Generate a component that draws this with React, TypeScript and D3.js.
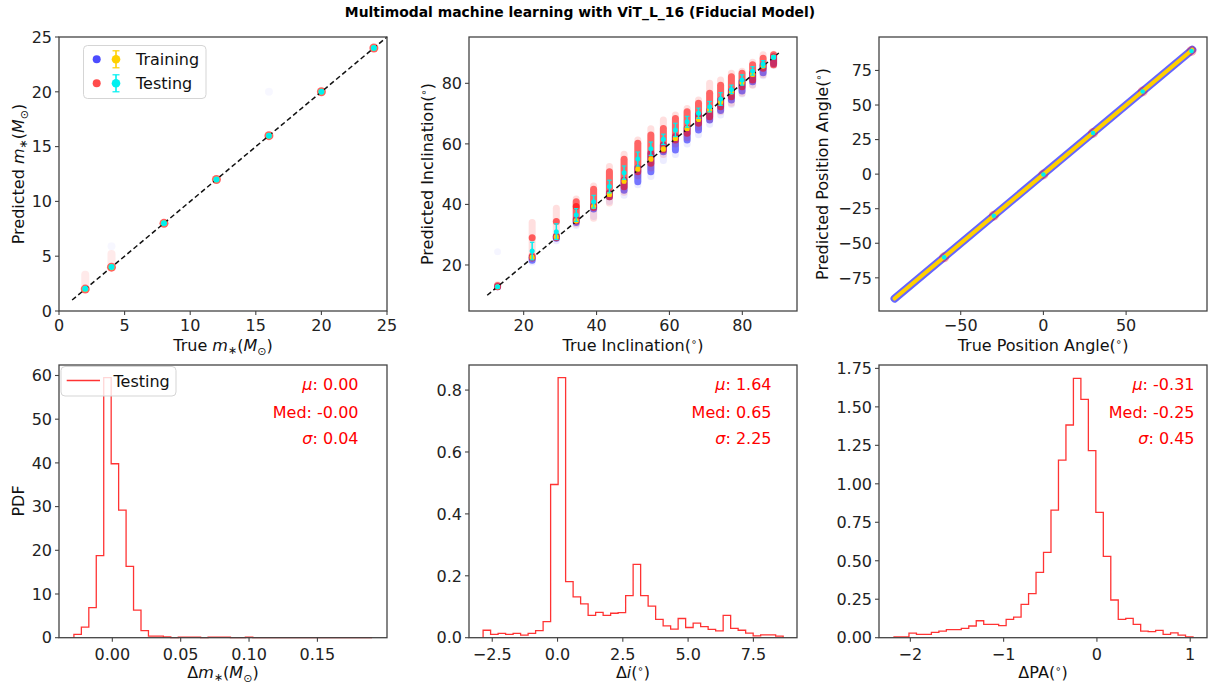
import React from "react";
import * as d3 from "d3";

const TITLE = "Multimodal machine learning with ViT_L_16 (Fiducial Model)";

// ---------- Panel 1: stellar mass ----------
const massTrue = [2, 4, 8, 12, 16, 20, 24];
const massTestMean = [2.02, 4.01, 8.0, 12.0, 16.0, 20.0, 24.0];
const massTestFaintHi = [3.3, 5.2, 8.0, 12.0, 16.0, 20.0, 24.0];
const massTrainOutX = [4, 16];
const massTrainOutY = [5.9, 20.0];
const massLine = [1, 25];

// ---------- Panel 2: inclination ----------
const incTrue = [12.84, 22.33, 28.96, 34.42, 39.19, 43.53, 47.55, 51.32, 54.9, 58.33, 61.64, 64.85, 67.98, 71.03, 74.04, 77.0, 79.92, 82.82, 85.7, 88.57];
const incTrainMean = [12.8, 22.5, 29.3, 34.6, 39.3, 43.3, 47.7, 51.7, 55.0, 58.3, 61.8, 65.1, 68.1, 71.2, 73.8, 77.2, 80.2, 83.0, 85.7, 88.7];
const incTrainStd = [0.3, 0.5, 0.5, 0.5, 0.5, 0.6, 0.6, 0.6, 0.6, 0.6, 0.6, 0.6, 0.6, 0.6, 0.6, 0.6, 0.6, 0.6, 0.5, 0.4];
const incTestMean = [12.8, 24.6, 31.0, 36.5, 40.9, 45.9, 50.5, 55.0, 58.4, 61.5, 64.6, 67.3, 70.1, 72.3, 74.8, 78.0, 81.1, 84.1, 86.4, 88.6];
const incTestStd = [0.3, 2.9, 2.6, 2.1, 2.1, 2.1, 2.2, 2.3, 2.2, 1.7, 2.2, 1.8, 1.7, 1.7, 2.1, 1.4, 1.7, 1.4, 1.1, 0.5];
const incTestLo = [12.8, 22.3, 29.0, 34.5, 39.0, 42.5, 45.8, 50.8, 53.6, 58.0, 61.3, 63.5, 66.8, 69.0, 72.3, 75.6, 78.9, 81.1, 85.0, 86.1];
const incTestHi = [13.2, 23.0, 29.5, 40.9, 45.0, 50.8, 54.9, 60.2, 62.9, 65.1, 68.4, 70.6, 73.4, 76.7, 79.4, 82.2, 83.3, 86.1, 88.3, 89.4];
const incTestPeak = [[], [29.0], [34.4], [39.3], [], [], [], [], [], [], [], [], [], [], [], [], [], [], [], []];
const incTestFaintLo = [12.8, 22.3, 29.0, 33.5, 35.4, 40.5, 44.0, 49.5, 52.0, 56.5, 60.0, 62.0, 65.5, 68.0, 70.6, 73.4, 76.7, 79.4, 82.8, 86.0];
const incTestFaintHi = [13.5, 34.0, 38.7, 41.8, 46.1, 52.5, 56.6, 61.3, 65.0, 67.9, 69.5, 71.7, 74.5, 80.0, 81.1, 83.3, 84.0, 87.0, 89.4, 89.6];
const incTrainLo = [12.8, 21.6, 28.8, 34.0, 38.5, 42.5, 44.7, 47.5, 50.8, 57.4, 58.0, 61.3, 64.6, 67.9, 71.0, 74.5, 77.5, 80.5, 83.5, 86.5];
const incTrainHi = [12.9, 22.5, 29.5, 35.0, 39.5, 43.8, 48.0, 52.0, 56.9, 59.6, 62.4, 65.1, 69.5, 71.0, 74.5, 77.5, 80.5, 83.3, 86.0, 88.8];
const incTrainFaintLo = [12.8, 21.0, 28.0, 33.0, 36.0, 41.0, 43.0, 46.5, 49.2, 54.5, 56.5, 60.0, 63.0, 66.5, 69.5, 73.0, 76.5, 79.5, 82.5, 86.0];
const incTrainOut = [[12.84, 24.4]];
const incLine = [10, 90];

// ---------- Panel 3: position angle ----------
const paTrainRange = [-90, 90];
const paTestTrue = [-60, -30, 0, 30, 60, 89.5];
const paTestMean = [-60.2, -30.1, -0.3, 29.8, 59.8, 89.1];

// ---------- Histograms ----------
const massBins = [-0.0281, 0.19];
const massPdf = [0.76, 2.4, 6.9, 18.8, 59.5, 39.8, 29.2, 16.3, 6.3, 1.6, 0.38, 0.36, 0.2, 0, 0.1, 0.1, 0.1, 0, 0.1, 0.1, 0.1, 0, 0, 0.1, 0, 0, 0, 0, 0, 0, 0, 0, 0, 0, 0, 0, 0, 0, 0, 0];
const massStats = ["0.00", "-0.00", "0.04"];

const incBins = [-2.85, 8.64];
const incPdf = [0.024, 0.011, 0.014, 0.011, 0.014, 0.008, 0.014, 0.023, 0.052, 0.495, 0.84, 0.181, 0.132, 0.109, 0.072, 0.082, 0.072, 0.079, 0.081, 0.136, 0.237, 0.136, 0.102, 0.059, 0.038, 0.028, 0.062, 0.033, 0.047, 0.036, 0.027, 0.022, 0.072, 0.03, 0.024, 0.015, 0.006, 0.009, 0.009, 0.005];
const incStats = ["1.64", "0.65", "2.25"];

const paBins = [-2.175, 1.03];
const paPdf = [0.006, 0.006, 0.03, 0.022, 0.022, 0.035, 0.043, 0.052, 0.052, 0.061, 0.076, 0.11, 0.087, 0.087, 0.078, 0.119, 0.134, 0.217, 0.286, 0.425, 0.554, 0.829, 1.154, 1.382, 1.685, 1.549, 1.215, 0.814, 0.528, 0.245, 0.119, 0.126, 0.087, 0.043, 0.039, 0.048, 0.022, 0.032, 0.017, 0.006];
const paStats = ["-0.31", "-0.25", "0.45"];

// ---------- ticks ----------
const massTicks = [0, 5, 10, 15, 20, 25];
const incTicks = [20, 40, 60, 80];
const paXTicks = [-50, 0, 50];
const paYTicks = [-75, -50, -25, 0, 25, 50, 75];
const hMassX = [0, 0.05, 0.1, 0.15];
const hMassY = [0, 10, 20, 30, 40, 50, 60];
const hIncX = [-2.5, 0, 2.5, 5, 7.5];
const hIncY = [0, 0.2, 0.4, 0.6, 0.8];
const hPaX = [-2, -1, 0, 1];
const hPaY = [0, 0.25, 0.5, 0.75, 1, 1.25, 1.5, 1.75];

const FONT = "DejaVu Sans, Verdana, sans-serif";
const FS = 16;
const AX = "#444";
const RED = "#ff0000";
const BLUE = "#0000ff";
const YEL = "#ffd000";
const CYAN = "#00f0f0";

const COLS = [59, 469, 879];
const PW = 328;
const ROWS = [[37, 311], [365, 637.7]];

const minus = (s: string) => s.replace(/^-/, "\u2212");

function Frame({ x, y, xTicks, yTicks, xFmt, yFmt, tickPad }: any) {
  const [x0, x1] = x.range();
  const [y0, y1] = y.range();
  return (
    <g fontFamily={FONT} fontSize={FS} fill="#222">
      <rect x={x0} y={y1} width={x1 - x0} height={y0 - y1} fill="none" stroke={AX} strokeWidth={1.3} />
      {xTicks.map((t: number) => (
        <g key={"x" + t}>
          <line x1={x(t)} x2={x(t)} y1={y0} y2={y0 + 4} stroke={AX} strokeWidth={1.1} />
          <text x={x(t)} y={y0 + tickPad} textAnchor="middle">{minus(xFmt(t))}</text>
        </g>
      ))}
      {yTicks.map((t: number) => (
        <g key={"y" + t}>
          <line x1={x0 - 4} x2={x0} y1={y(t)} y2={y(t)} stroke={AX} strokeWidth={1.1} />
          <text x={x0 - 7} y={y(t)} dy="0.36em" textAnchor="end">{minus(yFmt(t))}</text>
        </g>
      ))}
    </g>
  );
}

function YLabel({ x, y, children }: any) {
  return (
    <text transform={`translate(${x},${y}) rotate(-90)`} textAnchor="middle" fontFamily={FONT} fontSize={FS} fill="#111">
      {children}
    </text>
  );
}
function XLabel({ x, y, children }: any) {
  return (
    <text x={x} y={y} textAnchor="middle" fontFamily={FONT} fontSize={FS} fill="#111">
      {children}
    </text>
  );
}

const Deg = () => (
  <>
    (<tspan dy={-6} fontSize={10}>∘</tspan><tspan dy={6}>)</tspan>
  </>
);
const MStar = () => (
  <>
    <tspan fontStyle="italic">m</tspan>
    <tspan dy={3} fontSize={11}>∗</tspan>
    <tspan dy={-3}>(</tspan>
    <tspan fontStyle="italic">M</tspan>
    <tspan dy={4} fontSize={11}>⊙</tspan>
    <tspan dy={-4}>)</tspan>
  </>
);

function stepPath(bins: number[], vals: number[], x: any, y: any) {
  const [lo, hi] = bins;
  const n = vals.length;
  const w = (hi - lo) / n;
  const pts: [number, number][] = [[lo, 0]];
  vals.forEach((v, i) => {
    pts.push([lo + i * w, v]);
    pts.push([lo + (i + 1) * w, v]);
  });
  pts.push([hi, 0]);
  return d3.line()(pts.map(([a, b]) => [x(a), y(b)] as [number, number])) || "";
}

function Stats({ x, vals }: any) {
  return (
    <g fontFamily={FONT} fontSize={FS} fill={RED} textAnchor="end">
      <text x={x} y={390}><tspan fontStyle="italic">μ</tspan>: {vals[0]}</text>
      <text x={x} y={417.5}>Med: {vals[1]}</text>
      <text x={x} y={444}><tspan fontStyle="italic">σ</tspan>: {vals[2]}</text>
    </g>
  );
}

function ErrBar({ x, y, m, s, color, r, cap, lw }: any) {
  const cx = x;
  const cy = y(m);
  return (
    <g>
      <line x1={cx} x2={cx} y1={y(m - s)} y2={y(m + s)} stroke={color} strokeWidth={lw} />
      <line x1={cx - cap} x2={cx + cap} y1={y(m - s)} y2={y(m - s)} stroke={color} strokeWidth={1.2} />
      <line x1={cx - cap} x2={cx + cap} y1={y(m + s)} y2={y(m + s)} stroke={color} strokeWidth={1.2} />
      <circle cx={cx} cy={cy} r={r} fill={color} />
    </g>
  );
}

export default function App() {
  const x1 = d3.scaleLinear().domain([0, 25]).range([COLS[0], COLS[0] + PW]);
  const y1 = d3.scaleLinear().domain([0, 25]).range([ROWS[0][1], ROWS[0][0]]);
  const x2 = d3.scaleLinear().domain([5, 95]).range([COLS[1], COLS[1] + PW]);
  const y2 = d3.scaleLinear().domain([4.8, 95.3]).range([ROWS[0][1], ROWS[0][0]]);
  const x3 = d3.scaleLinear().domain([-99.4, 98.9]).range([COLS[2], COLS[2] + PW]);
  const y3 = d3.scaleLinear().domain([-99.0, 99.2]).range([ROWS[0][1], ROWS[0][0]]);
  const x4 = d3.scaleLinear().domain([-0.039, 0.2009]).range([COLS[0], COLS[0] + PW]);
  const y4 = d3.scaleLinear().domain([0, 62.4]).range([ROWS[1][1], ROWS[1][0]]);
  const x5 = d3.scaleLinear().domain([-3.39, 9.17]).range([COLS[1], COLS[1] + PW]);
  const y5 = d3.scaleLinear().domain([0, 0.881]).range([ROWS[1][1], ROWS[1][0]]);
  const x6 = d3.scaleLinear().domain([-2.336, 1.18]).range([COLS[2], COLS[2] + PW]);
  const y6 = d3.scaleLinear().domain([0, 1.772]).range([ROWS[1][1], ROWS[1][0]]);

  const f0 = d3.format("d");
  const f1 = d3.format(".1f");
  const f2 = d3.format(".2f");

  const dash = "5,3";

  return (
    <svg width={1213} height={690} style={{ position: "absolute", left: 0, top: 0, background: "#fff" }}>
      <rect width={1213} height={690} fill="#fff" />
      <text x={580} y={17} textAnchor="middle" fontFamily={FONT} fontWeight="bold" fontSize={13.9} fill="#000">
        {TITLE}
      </text>

      {/* ---------------- Panel 1 ---------------- */}
      <g>
        {massTrue.map((t, i) => (
          <line key={"mf" + i} x1={x1(t)} x2={x1(t)} y1={y1(t)} y2={y1(massTestFaintHi[i])} stroke={RED} strokeWidth={8} strokeLinecap="round" opacity={0.08} />
        ))}
        {massTrainOutX.map((t, i) => (
          <circle key={"mo" + i} cx={x1(t)} cy={y1(massTrainOutY[i])} r={4} fill={BLUE} opacity={0.03} />
        ))}
        {massTrue.map((t, i) => (
          <circle key={"mr" + i} cx={x1(t)} cy={y1(t)} r={4.5} fill={RED} opacity={0.6} />
        ))}
        <line x1={x1(massLine[0])} y1={y1(massLine[0])} x2={x1(massLine[1])} y2={y1(massLine[1])} stroke="#111" strokeWidth={1.5} strokeDasharray={dash} />
        {massTrue.map((t, i) => (
          <g key={"mc" + i}>
            <circle cx={x1(t)} cy={y1(t)} r={3} fill={YEL} />
            <circle cx={x1(t)} cy={y1(massTestMean[i])} r={3} fill={CYAN} />
          </g>
        ))}
        <Frame x={x1} y={y1} xTicks={massTicks} yTicks={massTicks} xFmt={f0} yFmt={f0} tickPad={20} />
        <rect x={83.5} y={45.5} width={122.5} height={53} rx={4} fill="#fff" fillOpacity={0.8} stroke="#d5d5d5" strokeWidth={1} />
        <circle cx={96.7} cy={59.3} r={4} fill={BLUE} opacity={0.7} />
        <ErrBar x={116} y={(v: number) => 59.3 - v} m={0} s={8.5} color={YEL} r={4.3} cap={3.5} lw={1.6} />
        <circle cx={96.7} cy={83.3} r={4} fill={RED} opacity={0.7} />
        <ErrBar x={116} y={(v: number) => 83.3 - v} m={0} s={8.5} color={CYAN} r={4.3} cap={3.5} lw={1.6} />
        <text x={136} y={65} fontFamily={FONT} fontSize={FS} fill="#111">Training</text>
        <text x={136} y={89} fontFamily={FONT} fontSize={FS} fill="#111">Testing</text>
        <YLabel x={23.5} y={174}>Predicted <MStar /></YLabel>
        <XLabel x={223} y={351}>True <MStar /></XLabel>
      </g>

      {/* ---------------- Panel 2 ---------------- */}
      <g>
        {incTrue.map((t, i) => (
          <line key={"bf" + i} x1={x2(t)} x2={x2(t)} y1={y2(incTrainFaintLo[i])} y2={y2(incTrainHi[i])} stroke={BLUE} strokeWidth={7} strokeLinecap="round" opacity={0.07} />
        ))}
        {incTrue.map((t, i) => (
          <line key={"bs" + i} x1={x2(t)} x2={x2(t)} y1={y2(incTrainLo[i])} y2={y2(incTrainHi[i])} stroke={BLUE} strokeWidth={7} strokeLinecap="round" opacity={0.5} />
        ))}
        {incTrainOut.map((p, i) => (
          <circle key={"bo" + i} cx={x2(p[0])} cy={y2(p[1])} r={3.5} fill={BLUE} opacity={0.04} />
        ))}
        {incTrue.map((t, i) => (
          <line key={"rf" + i} x1={x2(t)} x2={x2(t)} y1={y2(incTestFaintLo[i])} y2={y2(incTestFaintHi[i])} stroke={RED} strokeWidth={7} strokeLinecap="round" opacity={0.12} />
        ))}
        {incTrue.map((t, i) => (
          <line key={"rs" + i} x1={x2(t)} x2={x2(t)} y1={y2(incTestLo[i])} y2={y2(incTestHi[i])} stroke={RED} strokeWidth={7} strokeLinecap="round" opacity={0.55} />
        ))}
        {incTrue.map((t, i) =>
          incTestPeak[i].map((v, j) => <circle key={"rp" + i + "_" + j} cx={x2(t)} cy={y2(v)} r={3.5} fill={RED} opacity={0.6} />)
        )}
        <line x1={x2(incLine[0])} y1={y2(incLine[0])} x2={x2(incLine[1])} y2={y2(incLine[1])} stroke="#111" strokeWidth={1.5} strokeDasharray={dash} />
        {incTrue.map((t, i) => (
          <ErrBar key={"ye" + i} x={x2(t)} y={y2} m={incTrainMean[i]} s={incTrainStd[i]} color={YEL} r={2.6} cap={2} lw={1.5} />
        ))}
        {incTrue.map((t, i) => (
          <ErrBar key={"ce" + i} x={x2(t)} y={y2} m={incTestMean[i]} s={incTestStd[i]} color={CYAN} r={2.5} cap={2.2} lw={1.5} />
        ))}
        <Frame x={x2} y={y2} xTicks={incTicks} yTicks={incTicks} xFmt={f0} yFmt={f0} tickPad={20} />
        <YLabel x={433} y={174}>Predicted Inclination<Deg /></YLabel>
        <XLabel x={633} y={351}>True Inclination<Deg /></XLabel>
      </g>

      {/* ---------------- Panel 3 ---------------- */}
      <g>
        <line x1={x3(paTrainRange[0])} y1={y3(paTrainRange[0])} x2={x3(paTrainRange[1])} y2={y3(paTrainRange[1])} stroke={BLUE} strokeWidth={8} strokeLinecap="round" opacity={0.6} />
        {paTestTrue.map((t, i) => (
          <circle key={"pr" + i} cx={x3(t)} cy={y3(paTestMean[i])} r={5} fill={RED} opacity={0.3} />
        ))}
        <line x1={x3(paTrainRange[0])} y1={y3(paTrainRange[0])} x2={x3(paTrainRange[1])} y2={y3(paTrainRange[1])} stroke={YEL} strokeWidth={4} strokeLinecap="round" />
        {paTestTrue.map((t, i) => (
          <circle key={"pc" + i} cx={x3(t)} cy={y3(paTestMean[i])} r={2.3} fill={CYAN} />
        ))}
        <Frame x={x3} y={y3} xTicks={paXTicks} yTicks={paYTicks} xFmt={f0} yFmt={f0} tickPad={20} />
        <YLabel x={828} y={174}>Predicted Position Angle<Deg /></YLabel>
        <XLabel x={1043} y={351}>True Position Angle<Deg /></XLabel>
      </g>

      {/* ---------------- Histograms ---------------- */}
      <g fill="none" stroke={RED} strokeWidth={1.3} strokeOpacity={0.8}>
        <path d={stepPath(massBins, massPdf, x4, y4)} />
        <path d={stepPath(incBins, incPdf, x5, y5)} />
        <path d={stepPath(paBins, paPdf, x6, y6)} />
      </g>
      <Frame x={x4} y={y4} xTicks={hMassX} yTicks={hMassY} xFmt={f2} yFmt={f0} tickPad={22} />
      <Frame x={x5} y={y5} xTicks={hIncX} yTicks={hIncY} xFmt={f1} yFmt={f1} tickPad={22} />
      <Frame x={x6} y={y6} xTicks={hPaX} yTicks={hPaY} xFmt={f0} yFmt={f2} tickPad={22} />
      <Stats x={358.5} vals={massStats} />
      <Stats x={771.5} vals={incStats} />
      <Stats x={1194.5} vals={paStats} />
      <rect x={61} y={366.5} width={115} height={29.5} rx={4} fill="#fff" fillOpacity={0.8} stroke="#d5d5d5" strokeWidth={1} />
      <line x1={66.7} x2={100} y1={380.5} y2={380.5} stroke={RED} strokeWidth={1.5} strokeOpacity={0.8} />
      <text x={113.5} y={386.5} fontFamily={FONT} fontSize={FS} fill="#111">Testing</text>
      <YLabel x={23.5} y={501}>PDF</YLabel>
      <XLabel x={223} y={678}>Δ<MStar /></XLabel>
      <XLabel x={633} y={678}>Δ<tspan fontStyle="italic">i</tspan><Deg /></XLabel>
      <XLabel x={1043} y={678}>ΔPA<Deg /></XLabel>
    </svg>
  );
}
